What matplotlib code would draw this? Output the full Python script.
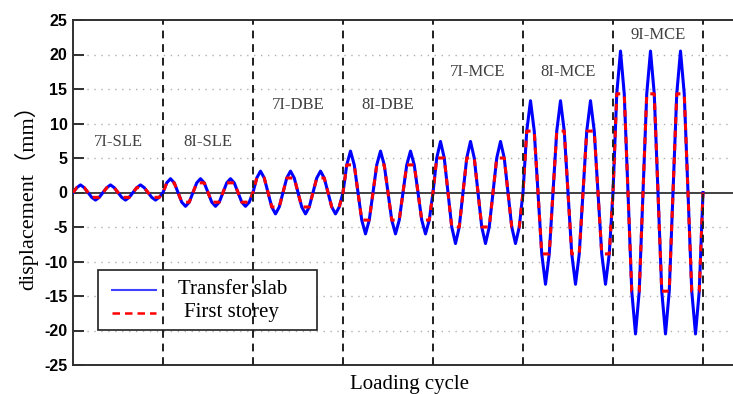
import matplotlib
matplotlib.use("Agg")
import matplotlib.pyplot as plt
from matplotlib.patches import Rectangle

# ---- data ----
stages = ['7I-SLE', '8I-SLE', '7I-DBE', '8I-DBE', '7I-MCE', '8I-MCE', '9I-MCE']
transfer_slab_peak = [1.1, 2.0, 3.1, 6.0, 7.4, 13.3, 20.5]
first_storey_peak = [0.7, 1.4, 2.1, 4.0, 5.0, 8.9, 14.3]
label_y = [7.3, 7.3, 12.7, 12.7, 17.5, 17.5, 22.8]
cycles_per_stage = 3
yticks = [-25, -20, -15, -10, -5, 0, 5, 10, 15, 20, 25]
series_names = ['Transfer slab', 'First storey']

# build the loading history (8 samples per cycle)
xs, blue, red = [], [], []
step = 1.0 / 8
x = 0.0
for A, r in zip(transfer_slab_peak, first_storey_peak):
    for c in range(cycles_per_stage):
        bvals = [0, r, A, r, 0, -r, -A, -r]
        rvals = [0, r, r, r, 0, -r, -r, -r]
        for bv, rv in zip(bvals, rvals):
            xs.append(x)
            blue.append(bv)
            red.append(rv)
            x += step
xs.append(x)
blue.append(0)
red.append(0)

W, H = 733, 394
fig = plt.figure(figsize=(W / 100, H / 100), dpi=100)
AX_L, AX_B, AX_W, AX_H = 73, 29, 672, 345
ax = fig.add_axes([AX_L / W, AX_B / H, AX_W / W, AX_H / H])

ax.set_xlim(0, AX_W / 30)
ax.set_ylim(-25, 25)

# grid and zero line
for yv in yticks:
    if yv not in (-25, 25, 0):
        ax.axhline(yv, color='#b0b0b0', lw=1.0, ls=(0, (1, 4)), zorder=0)
ax.axhline(0, color='#404040', lw=1.4, zorder=1)

ax.plot(xs, blue, color='#0000ff', lw=2.2, zorder=3)
ax.plot(xs, red, color='#ff0000', lw=2.2, ls=(0, (2.2, 2.2)), zorder=4)

# stage separators
n = len(stages)
for i in range(1, n + 1):
    ax.axvline(i * cycles_per_stage, color='#202020', lw=1.4, ls=(0, (4, 3)), zorder=10)

for i, (s, ly) in enumerate(zip(stages, label_y)):
    ax.text(i * cycles_per_stage + cycles_per_stage / 2, ly, s, ha='center', va='center',
            fontsize=12, family='Liberation Serif', color='#404040')

ax.set_yticks(yticks)
ax.set_yticklabels([str(v) for v in yticks], fontsize=11.5, fontweight='bold',
                   family='Liberation Sans')
ax.set_xticks([])
ax.tick_params(axis='y', direction='in', length=8, width=1.4, color='#303030', pad=4)

for sp in ['left', 'bottom', 'top', 'right']:
    ax.spines[sp].set_color('#303030')
    ax.spines[sp].set_linewidth(1.4)

ax.set_ylabel('displacement（mm）', fontsize=16, family=['Liberation Serif', 'Noto Sans CJK SC'],
              labelpad=4)
ax.set_xlabel('Loading cycle', fontsize=15, family='Liberation Serif', labelpad=7)

# legend drawn manually (pixel positions converted to axes fraction)
def fx(px):
    return (px - AX_L) / AX_W

def fy(py):
    return (H - py - AX_B) / AX_H

ax.add_patch(Rectangle((fx(98), fy(330)), fx(317) - fx(98), fy(270) - fy(330),
                       transform=ax.transAxes, facecolor='white', edgecolor='#202020',
                       lw=1.2, zorder=5))
ax.plot([fx(112), fx(156)], [fy(290), fy(290)], transform=ax.transAxes,
        color='#4040ff', lw=1.5, zorder=6)
ax.plot([fx(112), fx(156)], [fy(313), fy(313)], transform=ax.transAxes,
        color='#ff0000', lw=1.8, ls=(0, (3, 2)), zorder=6)
ax.text(fx(233), fy(289), series_names[0], transform=ax.transAxes, ha='center', va='center',
        fontsize=15, family='Liberation Serif', zorder=6)
ax.text(fx(231), fy(312), series_names[1], transform=ax.transAxes, ha='center', va='center',
        fontsize=15, family='Liberation Serif', zorder=6)

fig.savefig('out.png', dpi=100)
